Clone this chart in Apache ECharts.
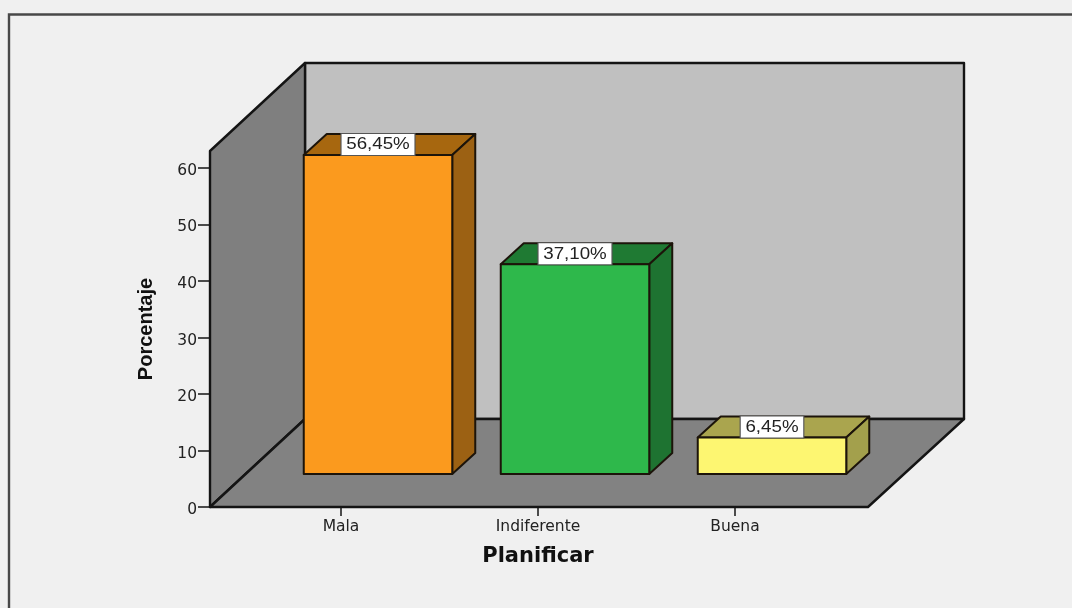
<!DOCTYPE html>
<html>
<head>
<meta charset="utf-8">
<style>html,body{margin:0;padding:0;background:#f0f0f0}#main{width:1072px;height:608px}</style>
<script src="https://cdn.jsdelivr.net/npm/echarts@6/dist/echarts.min.js"></script>
</head>
<body>
<div id="main"></div>
<script>
// Planificar: percentage of responses per rating
const categories = ['Mala', 'Indiferente', 'Buena'];
const percentages = [56.45, 37.10, 6.45];
const yTicks = [0, 10, 20, 30, 40, 50, 60];
const frontColors = ['#fb9a1e', '#2eb84b', '#fdf671'];
const topColors = ['#a7670f', '#1f7a33', '#aaa54e'];
const sideColors = ['#9c6113', '#1e7331', '#a3a04c'];

const INK = '#141414';
const SANS = '"DejaVu Sans", sans-serif';
const ARIAL = '"Liberation Sans", sans-serif';
// Oblique offsets of the pseudo-3D box
const ROOM = { dx: 95, dy: -88, leftPad: 32.5, rightPad: 34.5, backExtra: 1 };
const BAR = { dx: 37, dy: -33, depthX: 23, depthY: -21, width: 148.5 };

function renderRoom(params, api) {
  const g = params.coordSys;
  const bottom = g.y + g.height, top = g.y;
  const l = g.x - ROOM.leftPad, r = g.x + g.width + ROOM.rightPad;
  const { dx, dy, backExtra } = ROOM;
  const face = (points, fill) => ({
    type: 'polygon',
    shape: { points },
    style: { fill, stroke: INK, lineWidth: 2.4, lineJoin: 'round' }
  });
  return {
    type: 'group',
    children: [
      face([[l + dx, top + dy], [r + dx + backExtra, top + dy], [r + dx + backExtra, bottom + dy], [l + dx, bottom + dy]], '#c0c0c0'),
      face([[l, top], [l + dx, top + dy], [l + dx, bottom + dy], [l, bottom]], '#7f7f7f'),
      face([[l, bottom], [l + dx, bottom + dy], [r + dx + backExtra, bottom + dy], [r, bottom]], '#828282')
    ]
  };
}

function renderBar(params, api) {
  const i = api.value(0);
  const value = api.value(1);
  const base = api.coord([i, 0]);
  const tip = api.coord([i, value]);
  const x0 = base[0] + BAR.dx - BAR.width / 2;
  const x1 = x0 + BAR.width;
  const yb = base[1] + BAR.dy;
  const yt = tip[1] + BAR.dy;
  const ax = BAR.depthX, ay = BAR.depthY;
  const face = (points, fill) => ({
    type: 'polygon',
    shape: { points },
    style: { fill, stroke: '#1c140a', lineWidth: 2, lineJoin: 'round' }
  });
  return {
    type: 'group',
    children: [
      face([[x0, yt], [x0 + ax, yt + ay], [x1 + ax, yt + ay], [x1, yt]], topColors[i]),
      face([[x1, yt], [x1 + ax, yt + ay], [x1 + ax, yb + ay], [x1, yb]], sideColors[i]),
      face([[x0, yt], [x1, yt], [x1, yb], [x0, yb]], frontColors[i]),
      {
        // value tag, set in a wide face
        type: 'text',
        x: (x0 + x1) / 2,
        y: yt,
        scaleX: 1.17,
        style: {
          x: 0,
          y: 0,
          text: value.toFixed(2).replace('.', ',') + '%',
          align: 'center',
          verticalAlign: 'bottom',
          font: '16px ' + ARIAL,
          fill: '#222',
          backgroundColor: '#fff',
          borderColor: '#555',
          borderWidth: 1,
          padding: [3, 4, 2, 4]
        }
      }
    ]
  };
}

const chart = echarts.init(document.getElementById('main'), null, { renderer: 'canvas' });
chart.setOption({
  animation: false,
  backgroundColor: '#f0f0f0',
  graphic: [{
    type: 'polyline',
    silent: true,
    shape: { points: [[9, 620], [9, 14.5], [1085, 14.5]] },
    style: { stroke: '#484848', lineWidth: 2.4, fill: null }
  }],
  grid: { left: 242.5, top: 151, width: 591, height: 356 },
  xAxis: {
    type: 'category',
    data: categories,
    name: 'Planificar',
    nameLocation: 'middle',
    nameGap: 39,
    nameTextStyle: { fontFamily: SANS, fontWeight: 'bold', fontSize: 21, color: '#111' },
    axisLine: { show: false },
    axisTick: { show: true, alignWithLabel: true, length: 9, lineStyle: { color: INK, width: 1.5 } },
    axisLabel: { fontFamily: SANS, fontSize: 15.5, color: '#222', margin: 12 }
  },
  yAxis: {
    type: 'value',
    min: 0,
    max: 63,
    offset: 32.5,
    name: 'Porcentaje',
    nameLocation: 'middle',
    nameGap: 53.5,
    nameTextStyle: { fontFamily: ARIAL, fontWeight: 'bold', fontSize: 20, color: '#111' },
    splitLine: { show: false },
    axisLine: { show: true, lineStyle: { color: INK, width: 2 } },
    axisTick: { show: true, length: 12, customValues: yTicks, lineStyle: { color: INK, width: 1.5 } },
    axisLabel: {
      color: '#222',
      margin: 13,
      customValues: yTicks,
      formatter: '{tick|{value}}',
      rich: { tick: { fontFamily: SANS, fontSize: 15.5, color: '#222', padding: [6, 0, 0, 0] } }
    }
  },
  series: [
    {
      type: 'custom',
      silent: true,
      clip: false,
      renderItem: renderRoom,
      encode: { x: 0, y: 1 },
      data: [[0, 0]],
      z: 1
    },
    {
      type: 'custom',
      clip: false,
      renderItem: renderBar,
      encode: { x: 0, y: 1 },
      data: percentages.map((v, i) => [i, v]),
      z: 3
    }
  ]
});
</script>
</body>
</html>
